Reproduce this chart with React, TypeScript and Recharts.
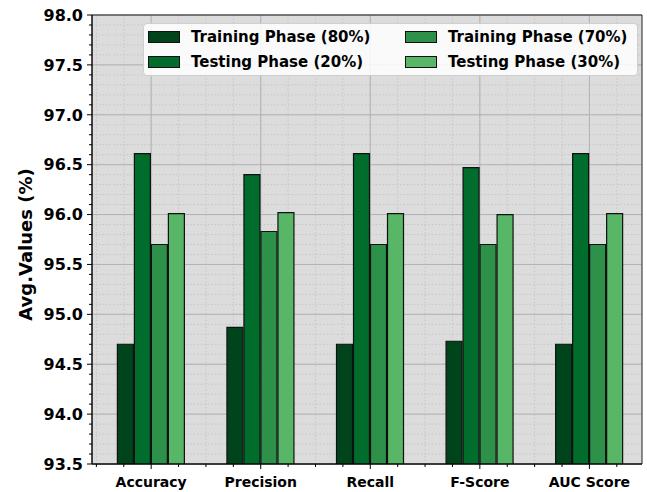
import React from 'react';
import { BarChart, Bar, XAxis, YAxis, CartesianGrid, Legend, ReferenceArea, Label } from 'recharts';

const CATEGORIES = ['Accuracy', 'Precision', 'Recall', 'F-Score', 'AUC Score'];
const TRAIN_80 = [94.7, 94.87, 94.7, 94.73, 94.7];
const TEST_20 = [96.61, 96.4, 96.61, 96.47, 96.61];
const TRAIN_70 = [95.7, 95.83, 95.7, 95.7, 95.7];
const TEST_30 = [96.01, 96.02, 96.01, 96.0, 96.01];

const SERIES = [
  { key: 'train80', name: 'Training Phase (80%)', color: '#00441b' },
  { key: 'test20', name: 'Testing Phase (20%)', color: '#006d2c' },
  { key: 'train70', name: 'Training Phase (70%)', color: '#2e9149' },
  { key: 'test30', name: 'Testing Phase (30%)', color: '#58b767' },
];

const Y_MIN = 93.5;
const Y_MAX = 98;
const X_MIN = -0.54;
const X_MAX = 4.48;
const Y_MAJOR = [93.5, 94, 94.5, 95, 95.5, 96, 96.5, 97, 97.5, 98];
const Y_MINOR = Array.from({ length: 46 }, (_, i) => Math.round((Y_MIN + i * 0.1) * 10) / 10);
const X_MAJOR = [0, 1, 2, 3, 4];
const X_MINOR = Array.from({ length: 20 }, (_, i) => -0.5 + i * 0.25);

const FONT = "'DejaVu Sans', sans-serif";

const data = CATEGORIES.map((name, i) => ({
  idx: i,
  name,
  train80: TRAIN_80[i],
  test20: TEST_20[i],
  train70: TRAIN_70[i],
  test30: TEST_30[i],
}));

const YTick = (props: any) => {
  const { x, y, payload } = props;
  const v = payload.value;
  const major = Math.round(v * 10) % 5 === 0;
  return (
    <g>
      <line x1={x} x2={x - (major ? 5 : 3)} y1={y} y2={y} stroke="#000" strokeWidth={1} />
      {major && (
        <text x={x - 9} y={y} dy="0.36em" textAnchor="end" fontFamily={FONT} fontWeight="bold" fontSize={16} fill="#000">
          {v.toFixed(1)}
        </text>
      )}
    </g>
  );
};

const XTick = (props: any) => {
  const { x, y, payload } = props;
  const v = payload.value;
  const major = Number.isInteger(v);
  return (
    <g>
      <line x1={x} x2={x} y1={y} y2={y + (major ? 5 : 3)} stroke="#000" strokeWidth={1} />
      {major && (
        <text x={x} y={y + 23} textAnchor="middle" fontFamily={FONT} fontWeight="bold" fontSize={14} fill="#000">
          {CATEGORIES[v]}
        </text>
      )}
    </g>
  );
};

const YLabel = (props: any) => {
  const { viewBox } = props;
  const cx = viewBox.x + 25;
  const cy = viewBox.y + viewBox.height / 2 + 5;
  return (
    <text
      x={cx}
      y={cy}
      transform={`rotate(-90, ${cx}, ${cy})`}
      textAnchor="middle"
      dominantBaseline="central"
      fontFamily={FONT}
      fontWeight="bold"
      fontSize={18}
      fill="#000"
    >
      Avg.Values (%)
    </text>
  );
};

const LegendBox = () => (
  <div
    style={{
      background: 'rgba(255,255,255,0.85)',
      border: '1px solid #cfcfcf',
      borderRadius: 4,
      padding: '3px 4px',
      display: 'grid',
      gridTemplateColumns: '257px auto',
      gridTemplateRows: '20px 20px',
      gridAutoFlow: 'column',
      rowGap: 5,
      fontFamily: FONT,
      fontWeight: 'bold',
      fontSize: 15,
      color: '#000',
    }}
  >
    {SERIES.map((s) => (
      <div key={s.key} style={{ display: 'flex', alignItems: 'center' }}>
        <span
          style={{
            display: 'inline-block',
            width: 32,
            height: 12,
            background: s.color,
            border: '1px solid #111',
            marginRight: 11,
            boxSizing: 'border-box',
          }}
        />
        <span>{s.name}</span>
      </div>
    ))}
  </div>
);

export default function App() {
  return (
    <div style={{ position: 'absolute', left: 0, top: 0, width: 647, height: 492, background: '#fff' }}>
      <BarChart
        width={647}
        height={492}
        data={data}
        margin={{ top: 15, right: 5, left: 0, bottom: 0 }}
        barSize={16}
        barGap={1}
      >
        <CartesianGrid
          fill="#dcdcdc"
          stroke="#c6c6c6"
          strokeDasharray="1.5 2"
          horizontalValues={Y_MINOR}
          verticalValues={X_MINOR}
        />
        <CartesianGrid stroke="#b2b2b2" horizontalValues={Y_MAJOR} verticalValues={X_MAJOR} />
        <XAxis
          dataKey="idx"
          type="number"
          domain={[X_MIN, X_MAX]}
          ticks={X_MINOR}
          interval={0}
          height={28}
          tickSize={0}
          tickMargin={0}
          tickLine={false}
          tick={<XTick />}
          axisLine={{ stroke: '#000' }}
          allowDataOverflow
        />
        <YAxis
          type="number"
          domain={[Y_MIN, Y_MAX]}
          ticks={Y_MINOR}
          interval={0}
          width={92}
          tickSize={0}
          tickMargin={0}
          tickLine={false}
          tick={<YTick />}
          axisLine={{ stroke: '#000' }}
          allowDataOverflow
        >
          <Label content={<YLabel />} />
        </YAxis>
        <Legend
          verticalAlign="middle"
          layout="horizontal"
          wrapperStyle={{ position: 'absolute', left: 143, top: 23, width: 495 }}
          content={() => <LegendBox />}
        />
        {SERIES.map((s) => (
          <Bar
            key={s.key}
            dataKey={s.key}
            name={s.name}
            fill={s.color}
            stroke="#111"
            strokeWidth={1.2}
            isAnimationActive={false}
          />
        ))}
        <ReferenceArea x1={X_MIN} x2={X_MAX} y1={Y_MIN} y2={Y_MAX} fill="none" stroke="#222" strokeWidth={1} />
      </BarChart>
    </div>
  );
}
